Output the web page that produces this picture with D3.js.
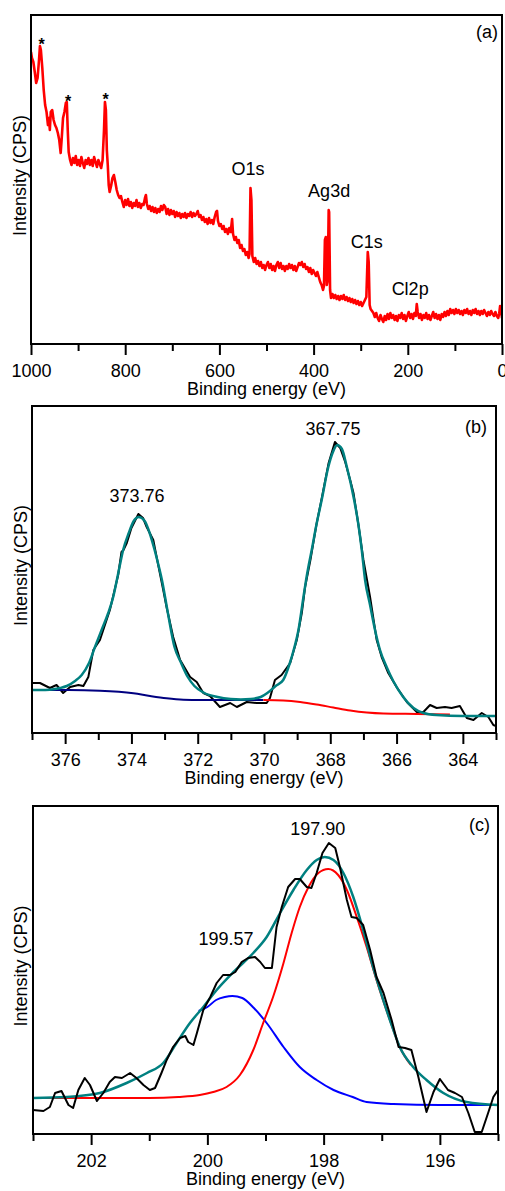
<!DOCTYPE html>
<html><head><meta charset="utf-8">
<script src="https://cdn.jsdelivr.net/npm/d3@7/dist/d3.min.js"></script>
<style>body{margin:0;background:#fff}svg{display:block}text{font-family:Arial,"Liberation Sans",sans-serif}</style>
</head><body>
<svg id="chart" width="505" height="1191"></svg>
<script>
// ---------- DATA ----------
// Panel (a): survey spectrum [binding energy (eV), intensity (CPS)]
const surveyData = [[1000,29200],[998,28600],[995,28200],[992,27200],[989,26100],[986,26600],[983,28400],[981,29800],[979,29400],[976,27600],[973,25400],[970,23900],[967,23200],[964,21900],[962,22600],[960,21400],[958,23200],[955,23400],[952,22400],[949,21900],[946,21600],[943,21100],[940,20400],[937,19100],[935,20400],[932,22600],[929,23200],[926,24100],[924,24200],[922,21400],[920,19200],[917,18400],[914,17900],[911,18600],[908,18100],[905,18800],[902,17900],[899,18400],[896,17800],[893,18700],[890,18100],[887,17600],[884,18400],[881,18000],[878,18600],[875,17900],[872,18400],[869,17800],[866,18700],[863,18200],[860,17700],[857,18400],[854,18000],[851,17600],[848,18400],[845,21400],[843,24200],[841,23400],[839,19400],[837,17900],[835,15900],[833,15200],[830,15800],[827,16600],[824,16900],[821,16200],[818,15400],[815,14900],[812,14600],[809,14800],[806,14200],[803,13700],[800,14400],[797,13900],[794,14500],[791,13800],[788,14200],[785,13600],[782,14100],[779,13800],[776,14400],[773,13700],[770,14100],[767,13600],[764,14000],[761,13900],[758,14600],[756,14900],[754,14000],[751,13500],[748,13800],[745,13300],[742,13700],[739,13200],[736,13600],[733,13100],[730,13500],[727,13200],[724,13800],[721,13400],[718,13900],[715,13700],[712,13000],[709,13500],[706,12900],[703,13400],[700,13000],[697,13300],[694,12700],[691,13200],[688,12800],[685,13100],[682,12600],[679,13000],[676,12700],[673,13100],[670,12600],[667,13000],[664,12800],[661,13200],[658,12700],[655,13100],[652,12800],[649,13000],[646,13300],[643,12700],[640,12900],[637,12400],[634,12700],[631,12200],[628,12500],[625,12000],[622,12600],[619,12100],[616,12400],[613,12000],[610,12700],[607,13200],[605,13300],[603,12300],[600,11800],[597,12000],[594,11500],[591,11800],[588,11200],[585,11500],[582,11000],[579,11600],[576,11200],[573,12500],[571,11000],[568,10400],[565,10700],[562,10100],[559,10400],[556,9600],[553,9900],[550,9300],[547,9500],[544,8900],[541,9200],[538,8600],[536,9000],[534,15600],[532,14400],[530,8800],[527,8200],[524,8600],[521,8000],[518,8300],[515,7800],[512,8200],[509,7600],[506,7900],[503,7400],[500,7900],[497,8200],[494,7600],[491,8000],[488,7400],[485,7800],[482,7300],[479,7900],[476,8200],[473,7600],[470,8100],[467,7500],[464,7800],[461,7300],[458,7800],[455,7500],[452,8000],[449,7600],[446,7900],[443,7400],[440,7800],[437,7300],[434,7700],[431,8100],[428,7900],[425,8200],[422,7700],[419,8000],[416,7500],[413,7700],[410,7200],[407,7600],[404,7000],[401,7400],[398,7100],[395,6800],[392,7200],[389,6700],[386,6200],[383,5900],[380,5400],[378,5800],[376,10400],[374,10700],[372,5900],[370,6400],[368,13400],[367,13200],[365,5400],[363,4600],[360,5000],[357,4600],[354,4900],[351,4500],[348,4800],[345,4400],[342,4800],[339,4500],[336,4900],[333,4400],[330,4700],[327,4300],[324,4600],[321,4200],[318,4500],[315,4100],[312,4400],[309,4000],[306,4300],[303,3900],[300,4200],[297,3800],[294,4100],[291,4400],[288,4700],[285,9200],[283,8200],[281,3900],[279,3500],[276,3300],[273,3100],[270,2700],[267,3100],[264,2600],[261,2300],[258,2900],[255,2500],[252,2200],[249,2800],[246,2400],[243,3000],[240,2500],[237,3100],[234,2600],[231,2900],[228,2400],[225,2800],[222,2300],[219,2900],[216,2600],[213,3100],[210,2500],[207,2900],[204,2300],[201,2800],[198,3200],[195,2600],[192,3000],[189,2500],[186,3100],[183,2800],[181,4000],[179,3200],[176,2600],[173,3000],[170,2400],[167,2900],[164,2600],[161,3100],[158,2500],[155,2900],[152,2400],[149,2800],[146,3200],[143,2600],[140,3000],[137,2500],[134,2900],[131,2400],[128,3000],[125,2700],[122,3200],[119,2800],[116,3300],[113,2900],[110,3500],[107,3100],[104,3400],[101,3000],[98,3500],[95,3100],[92,3400],[89,3000],[86,3300],[83,2900],[80,3400],[77,3100],[74,3500],[71,3000],[68,3300],[65,2900],[62,3400],[59,3100],[56,3500],[53,3000],[50,3300],[47,2900],[44,3300],[41,3000],[38,3400],[35,3100],[32,2800],[29,3200],[26,2900],[23,3300],[20,3000],[17,2800],[14,3200],[11,2800],[8,2600],[6,3000],[4,3800],[2,3400],[0,2600]];
const surveyLabels = [["O1s",539,16900],["Ag3d",367,14700],["C1s",287,9600],["Cl2p",195,4900]];
const starPositions = [[977.7,29400],[921.4,23700],[841.8,23900]];
const surveyTicksMajor = [1000,800,600,400,200,0];
const surveyTicksMinor = [900,700,500,300,100];

// Panel (b): Ag 3d
const agRaw = [[377.0,500],[376.76,500],[376.46,450],[376.26,480],[376.06,400],[375.85,460],[375.6,480],[375.45,470],[375.3,560],[375.15,830],[374.95,930],[374.65,1230],[374.4,1580],[374.3,1810],[374.24,1830],[374.14,1900],[374.0,2050],[373.79,2190],[373.65,2150],[373.54,2060],[373.34,1930],[373.24,1760],[373.04,1430],[372.94,1260],[372.74,960],[372.53,730],[372.23,560],[372.03,510],[371.83,400],[371.63,370],[371.33,260],[371.02,300],[370.82,260],[370.52,310],[370.22,300],[369.92,300],[369.82,350],[369.67,530],[369.47,580],[369.21,700],[369.01,930],[368.86,1200],[368.76,1460],[368.6,1730],[368.42,2080],[368.25,2360],[368.05,2700],[367.86,2910],[367.7,2850],[367.55,2710],[367.4,2530],[367.3,2400],[367.15,2080],[367.0,1730],[366.8,1360],[366.6,930],[366.45,760],[366.25,600],[366.0,460],[365.69,310],[365.39,210],[365.19,210],[364.99,280],[364.79,250],[364.54,260],[364.34,250],[364.09,270],[363.88,150],[363.68,130],[363.43,200],[363.23,160],[363.08,80],[363.0,70]];
const agFit = [[377.0,430],[376.6,430],[376.3,440],[376.15,450],[375.95,470],[375.7,520],[375.5,580],[375.28,700],[375.1,860],[374.9,1030],[374.7,1200],[374.55,1360],[374.44,1530],[374.36,1660],[374.25,1830],[374.08,2000],[373.93,2120],[373.78,2160],[373.6,2120],[373.45,2000],[373.3,1830],[373.17,1660],[373.08,1530],[372.9,1200],[372.7,860],[372.5,700],[372.3,560],[372.1,470],[371.8,400],[371.4,360],[371.0,340],[370.7,335],[370.4,340],[370.1,360],[369.9,400],[369.65,470],[369.42,530],[369.22,700],[369.08,860],[368.96,1030],[368.88,1200],[368.81,1360],[368.73,1530],[368.65,1680],[368.56,1830],[368.42,2080],[368.26,2330],[368.06,2660],[367.92,2810],[367.79,2880],[367.65,2840],[367.5,2660],[367.28,2330],[367.15,2080],[367.05,1830],[366.95,1530],[366.8,1280],[366.65,1030],[366.5,830],[366.3,660],[366.1,520],[365.8,360],[365.49,250],[365.19,200],[364.8,180],[364.0,170],[363.0,170]];
const agBgLeft = [[377.0,430],[375.9,430],[374.95,423],[373.94,397],[373.44,370],[372.94,347],[372.43,333],[371.93,330],[370.02,330]];
const agBgRight = [[370.02,330],[369.42,325],[368.91,310],[368.41,285],[367.91,255],[367.4,225],[366.9,205],[366.4,195],[365.39,190],[364.39,185]];
const agLabels = [["373.76",373.83,2310],["367.75",367.92,2980]];
const agTicksMajor = [376,374,372,370,368,366,364];
const agTicksMinor = [377,375,373,371,369,367,365,363];

// Panel (c): Cl 2p
const clRaw = [[203.0,240],[202.82,230],[202.71,270],[202.62,410],[202.51,430],[202.39,290],[202.31,260],[202.22,440],[202.11,560],[202.02,490],[201.9,330],[201.79,410],[201.68,520],[201.59,570],[201.47,560],[201.33,610],[201.22,560],[201.1,490],[200.99,440],[200.9,460],[200.79,610],[200.7,740],[200.59,870],[200.47,960],[200.38,980],[200.33,920],[200.24,890],[200.18,1010],[200.07,1240],[199.95,1370],[199.84,1510],[199.73,1590],[199.61,1590],[199.52,1620],[199.41,1720],[199.3,1760],[199.18,1770],[199.09,1720],[199.01,1660],[198.89,1660],[198.81,2070],[198.72,2270],[198.61,2470],[198.49,2550],[198.41,2550],[198.29,2470],[198.21,2460],[198.12,2610],[198.02,2810],[197.91,2910],[197.8,2860],[197.72,2670],[197.6,2340],[197.52,2170],[197.43,2160],[197.32,2090],[197.2,1840],[197.09,1570],[196.97,1410],[196.83,1140],[196.71,870],[196.6,860],[196.49,840],[196.37,570],[196.23,220],[196.11,420],[196.0,550],[195.86,440],[195.74,410],[195.62,370],[195.51,210],[195.4,20],[195.28,20],[195.17,210],[195.08,370],[195.0,440]];
const clFit = [[203.0,360],[202.42,370],[201.85,410],[201.39,510],[201.04,610],[200.76,710],[200.53,910],[200.3,1110],[200.07,1270],[199.84,1440],[199.55,1620],[199.21,1810],[198.98,1970],[198.75,2210],[198.52,2440],[198.29,2640],[198.12,2740],[197.98,2770],[197.83,2740],[197.66,2610],[197.49,2370],[197.32,2040],[197.17,1710],[197.03,1440],[196.86,1140],[196.69,870],[196.46,670],[196.23,540],[195.94,410],[195.54,320],[195.0,290]];
const clRed = [[203.0,360],[201.0,360],[200.5,370],[200.13,390],[199.9,420],[199.67,470],[199.44,590],[199.21,840],[199.04,1110],[198.87,1370],[198.69,1710],[198.55,2010],[198.41,2270],[198.26,2470],[198.09,2610],[197.92,2650],[197.75,2590],[197.6,2440],[197.43,2170],[197.26,1870],[197.09,1540],[196.86,1140],[196.69,870],[196.5,690]];
const clBlue = [[200.15,1230],[200.0,1270],[199.85,1340],[199.7,1370],[199.57,1380],[199.4,1360],[199.2,1260],[198.98,1110],[198.69,870],[198.41,670],[198.12,540],[197.83,440],[197.5,370],[197.26,320],[196.8,300],[196.0,290],[195.0,290]];
const clLabels = [["197.90",198.10,2990],["199.57",199.68,1890]];
const clTicksMajor = [202,200,198,196];
const clTicksMinor = [203,201,199,197,195];

// ---------- DRAW ----------
const svg = d3.select("#chart");
const FONT = 18;

function panel(cfg){
  const {left, top, right, bottom, xDom, yDom, id} = cfg;
  const x = d3.scaleLinear().domain(xDom).range([left, right]);
  const y = d3.scaleLinear().domain(yDom).range([bottom, top]);
  const g = svg.append("g");
  g.append("clipPath").attr("id", id).append("rect")
    .attr("x", left).attr("y", top).attr("width", right-left).attr("height", bottom-top);
  const plot = g.append("g").attr("clip-path", `url(#${id})`);
  const line = (curve) => d3.line().x(d=>x(d[0])).y(d=>y(d[1])).curve(curve);
  cfg.series.forEach(s=>{
    plot.append("path").datum(s.data).attr("fill","none").attr("stroke",s.color)
      .attr("stroke-width",s.width).attr("stroke-linejoin","round")
      .attr("d", line(s.smooth ? d3.curveMonotoneX : d3.curveLinear));
  });
  g.append("g").attr("transform",`translate(0,${bottom})`)
    .call(d3.axisBottom(x).tickValues(cfg.minor).tickSize(7).tickSizeOuter(0).tickFormat(""))
    .call(a=>{a.select(".domain").remove(); a.selectAll("line").attr("stroke","#000").attr("stroke-width",2);});
  g.append("g").attr("transform",`translate(0,${bottom})`)
    .call(d3.axisBottom(x).tickValues(cfg.major).tickSize(11).tickSizeOuter(0).tickPadding(9).tickFormat(d3.format("d")))
    .call(a=>{a.select(".domain").remove(); a.selectAll("line").attr("stroke","#000").attr("stroke-width",2);
      a.selectAll("text").attr("font-size",FONT).attr("fill","#000").attr("font-family","Arial, 'Liberation Sans', sans-serif");});
  g.append("rect").attr("x",left).attr("y",top).attr("width",right-left).attr("height",bottom-top)
    .attr("fill","none").attr("stroke","#000").attr("stroke-width",2);
  g.append("text").attr("x",(left+right)/2).attr("y",bottom+51).attr("text-anchor","middle")
    .attr("font-size",FONT).text("Binding energy (eV)");
  g.append("text").attr("transform",`translate(${cfg.ylabX},${(top+bottom)/2-4}) rotate(-90)`)
    .attr("text-anchor","middle").attr("font-size",FONT).text("Intensity (CPS)");
  g.append("text").attr("x",cfg.letterX).attr("y",cfg.letterY).attr("text-anchor","end")
    .attr("font-size",FONT).text(cfg.letter);
  cfg.labels.forEach(l=>{
    g.append("text").attr("x",x(l[1])).attr("y",y(l[2])).attr("text-anchor","middle")
      .attr("font-size",FONT).text(l[0]);
  });
  return {x,y,g};
}

const pa = panel({id:"ca", left:31, top:15, right:502, bottom:344, xDom:[1000,0], yDom:[0,32900],
  series:[{data:surveyData, color:"#ff0000", width:2.6}],
  major:surveyTicksMajor, minor:surveyTicksMinor, ylabX:26, letter:"(a)", letterX:498, letterY:38,
  labels:surveyLabels});
starPositions.forEach(p=>{
  pa.g.append("text").attr("x",pa.x(p[0])).attr("y",pa.y(p[1])).attr("text-anchor","middle")
    .attr("font-size",16).attr("font-weight","bold").text("*");
});

panel({id:"cb", left:32, top:406, right:496, bottom:733, xDom:[377,363], yDom:[0,3270],
  series:[
    {data:agRaw, color:"#000000", width:2},
    {data:agBgLeft, color:"#000080", width:2, smooth:true},
    {data:agBgRight, color:"#ff0000", width:2, smooth:true},
    {data:agFit, color:"#008080", width:2.5, smooth:true}
  ],
  major:agTicksMajor, minor:agTicksMinor, ylabX:27, letter:"(b)", letterX:487, letterY:433,
  labels:agLabels});

panel({id:"cc", left:33, top:806, right:498, bottom:1134, xDom:[203,195], yDom:[0,3280],
  series:[
    {data:clBlue, color:"#0000ff", width:2, smooth:true},
    {data:clRed, color:"#ff0000", width:2, smooth:true},
    {data:clFit, color:"#008080", width:2.5, smooth:true},
    {data:clRaw, color:"#000000", width:2}
  ],
  major:clTicksMajor, minor:clTicksMinor, ylabX:27, letter:"(c)", letterX:490, letterY:831,
  labels:clLabels});
</script>
</body></html>
